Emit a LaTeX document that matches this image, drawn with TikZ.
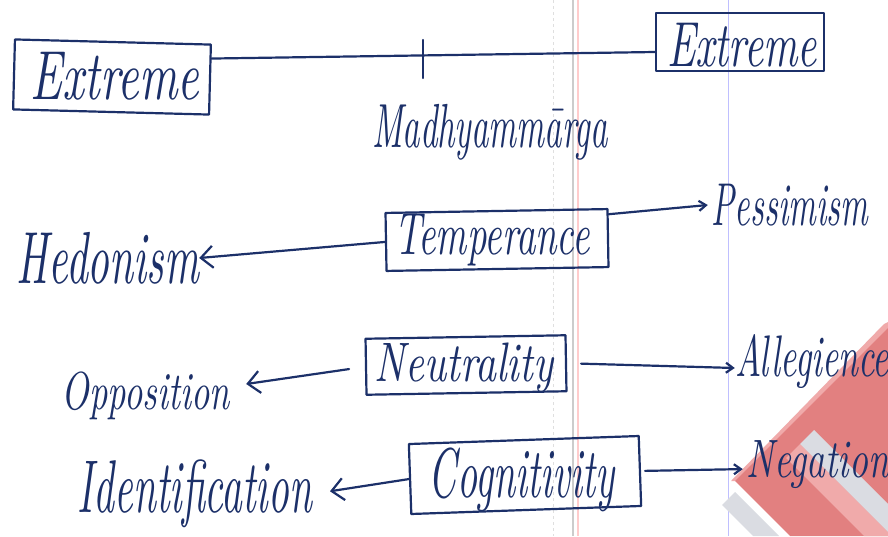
\documentclass[tikz,border=0pt]{standalone}
\usetikzlibrary{arrows.meta,calc}
\definecolor{ink}{RGB}{28,48,105}
\definecolor{stamp}{RGB}{226,128,128}
\definecolor{stamplight}{RGB}{240,170,170}
\definecolor{stampgrey}{RGB}{218,220,226}
% handwritten word stretched to a given width and total height
\newcommand{\hw}[3]{\resizebox*{#1}{#2}{\itshape #3}}
\tikzset{
  ink/.style={draw=ink, line width=2.2pt, line cap=round, line join=round},
  box/.style={ink, rectangle, inner sep=0pt, text=ink},
  word/.style={inner sep=0pt, text=ink},
  link/.style={ink},
  bigtip/.style={ink, -{Straight Barb[length=12pt,width=22pt,line width=2.2pt]}},
  smalltip/.style={ink, -{Straight Barb[length=7pt,width=10pt,line width=2.2pt]}}
}
\begin{document}
\begin{tikzpicture}[x=1pt,y=-1pt]
\useasboundingbox (0,0) rectangle (888,536);
\fill[white] (0,0) rectangle (888,536);

% ruled paper lines
\draw[gray!25, line width=0.8pt, dashed] (553,0) -- (553,536);
\draw[gray!40, line width=1.2pt] (573,0) -- (573,536);
\draw[red!20, line width=1.2pt] (578,0) -- (578,536);
\draw[blue!25, line width=0.8pt] (728,0) -- (728,536);

% stamp in the lower right corner
\fill[stampgrey] (722,505) -- (735,492) -- (779,536) -- (753,536) -- cycle;
\fill[stamplight] (884,324) -- (888,322) -- (888,330) -- (738,481) -- (731,481) -- cycle;
\fill[stamp] (888,328) -- (735,481) -- (790,536) -- (888,536) -- cycle;
\fill[stamplight] (786,458) -- (800,444) -- (888,532) -- (888,536) -- (864,536) -- cycle;
\fill[stampgrey] (800,444) -- (814,430) -- (888,504) -- (888,532) -- cycle;

% top row: the two extremes and the middle way
\node[box, minimum width=196pt, minimum height=70pt, rotate=-1.5] (ext1) at (112,77) {};
\node[word] (ext1t) at (115,76) {\hw{168pt}{48pt}{Extreme}};
\node[box, minimum width=168pt, minimum height=58pt] (ext2) at (740,42) {};
\node[word] (ext2t) at (742,45) {\hw{150pt}{44pt}{Extreme}};
\draw[link] (ext1.12) -- (ext2.west |- 0,52);
\coordinate (tickT) at (423,40);
\coordinate (tickB) at (423,78);
\draw[link] (tickT) -- (tickB);
\node[word] (mid) at (490,132) {\hw{236pt}{56pt}{Madhyammārga}};

% Temperance row
\node[box, minimum width=222pt, minimum height=58pt, rotate=1] (temp) at (497,240) {};
\node[word] (tempt) at (492,240) {\hw{196pt}{52pt}{Temperance}};
\node[word] (hed) at (108,258) {\hw{182pt}{52pt}{Hedonism}};
\node[word] (pes) at (790,205) {\hw{156pt}{42pt}{Pessimism}};
\draw[bigtip] (temp.west) -- (hed.east);
\draw[smalltip] (temp.12) -- ([xshift=-4pt]pes.west);

% Neutrality row
\node[box, minimum width=200pt, minimum height=56pt, rotate=1] (neu) at (466,365) {};
\node[word] (neut) at (464,368) {\hw{178pt}{50pt}{Neutrality}};
\node[word] (opp) at (146,396) {\hw{168pt}{48pt}{Opposition}};
\node[word] (all) at (812,362) {\hw{154pt}{54pt}{Allegience}};
\draw[bigtip, shorten <=16pt] (neu.west) -- ($(opp.east)+(16,-12)$);
\draw[smalltip, shorten <=14pt] (neu.east) -- ([yshift=-6pt]all.west);

% Cognitivity row
\node[box, minimum width=230pt, minimum height=70pt, rotate=2] (cog) at (525,475) {};
\node[word] (cogt) at (522,480) {\hw{186pt}{64pt}{Cognitivity}};
\node[word] (ide) at (195,494) {\hw{234pt}{68pt}{Identification}};
\node[word] (neg) at (818,465) {\hw{142pt}{48pt}{Negation}};
\draw[bigtip, shorten >=18pt] (cog.west) -- (ide.east);
\draw[smalltip, shorten <=4pt, shorten >=4pt] (cog.east) -- ([yshift=-4pt]neg.west);
\end{tikzpicture}
\end{document}
